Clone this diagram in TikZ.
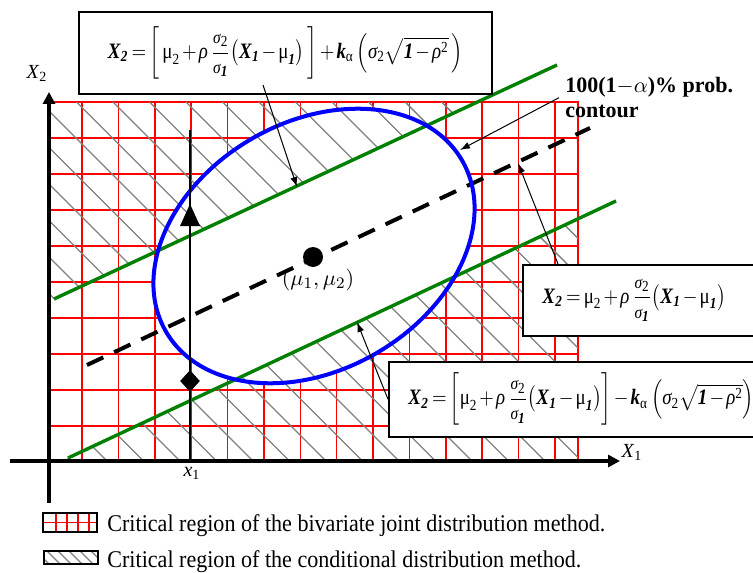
\documentclass[tikz,border=0pt]{standalone}
\usepackage{amsmath}
\usepackage{graphicx}
\usepackage{fontspec}
\setmainfont{Liberation Serif}
\usetikzlibrary{arrows.meta,positioning,shapes.geometric}
\definecolor{gridred}{RGB}{255,0,0}
\definecolor{bandgreen}{RGB}{0,128,0}
\definecolor{contourblue}{RGB}{0,0,255}
\definecolor{hatchgray}{RGB}{128,128,128}

\newcommand{\bvX}{\textbf{\textit{X}}}
\newcommand{\bvk}{\textbf{\textit{k}}}
\newcommand{\bvone}{\textbf{\textit{1}}}
\newcommand{\bvtwo}{\textbf{\textit{2}}}
\newcommand{\tmu}{\text{μ}}
\newcommand{\trho}{\text{\itshape ρ}}
\newcommand{\tsig}{\text{\itshape σ}}
\newcommand{\talpha}{\text{α}}
\newcommand{\sigfrac}{\dfrac{\text{\small\itshape σ}_{\text{2}}}{\text{\small\itshape σ}_{\bvone}}}
\newcommand{\squeeze}[2]{\scalebox{#1}[1]{\medmuskip=2mu\thickmuskip=3mu #2}}

\begin{document}
\begin{tikzpicture}[x=0.5pt, y=-0.5pt,
    gridline/.style={draw=gridred, line width=0.75pt},
    hatchline/.style={draw=hatchgray, line width=0.7pt},
    bandline/.style={draw=bandgreen, line width=1.7pt},
    regline/.style={draw=black, line width=2pt, dash pattern=on 9pt off 6pt},
    contour/.style={draw=contourblue, line width=2pt},
    axis/.style={line width=2pt, -{Triangle[length=6pt,width=6pt]}},
    ptr/.style={line width=0.5pt, -{Latex[length=5pt,width=3.5pt]}},
    eqbox/.style={draw, line width=0.75pt, fill=white, inner sep=0pt},
    eqtxt/.style={inner sep=0pt, anchor=west, font=\fontsize{11}{13}\selectfont},
    keybox/.style={draw, line width=0.6pt, inner sep=0pt, minimum width=27pt},
    legtxt/.style={font=\fontsize{12}{14}\selectfont, inner sep=0pt, anchor=base west}
]
\useasboundingbox (0,0) rectangle (753,572);

% Joint critical region (grid)
\draw[gridline] (50,102) rectangle (578,461);
\foreach \k in {0,...,9}
    \draw[gridline] (50,102+36*\k) -- (578,102+36*\k);
\foreach \k in {0,...,13}
    \draw[gridline] ({82+36.38*\k},102) -- ({82+36.38*\k},461);
\fill[white, rotate around={30:(314,246)}] (314,246) ellipse (171 and 124);

% Conditional critical region (hatch)
\begin{scope}
    \clip (50,102) -- (477.5,102) -- (50,300.9) -- cycle
          (61.6,461) -- (578,218.8) -- (578,461) -- cycle;
    \foreach \k in {-18,...,5}
        \draw[hatchline] ({332+36.5*\k-400},-298) -- ({332+36.5*\k+400},502);
\end{scope}

% Limits and regression line
\coordinate (upA) at (54,299);
\coordinate (upB) at (557,65);
\coordinate (lowA) at (68,458);
\coordinate (lowB) at (616,201);
\coordinate (regA) at (87,365);
\coordinate (regB) at (590,128);
\draw[bandline] (upA) -- (upB);
\draw[bandline] (lowA) -- (lowB);
\draw[regline] (regA) -- (regB);

% Contour
\draw[contour, rotate around={30:(314,246)}] (314,246) ellipse (171 and 124);

% Observation line at x1
\coordinate (obsLow) at (190,461);
\coordinate (obsHigh) at (190,130);
\draw[line width=0.75pt] (obsLow) -- (obsHigh);
\fill (190,204) -- (180,226) -- (200,226) -- cycle;
\node[diamond, fill, inner sep=0pt, minimum width=10pt, minimum height=11pt] (lowMark) at (190,381) {};

% Axes
\coordinate (xStart) at (10,461);
\coordinate (xEnd) at (620,461);
\coordinate (yStart) at (49,503);
\coordinate (yEnd) at (49,92);
\draw[axis] (xStart) -- (xEnd);
\draw[axis] (yStart) -- (yEnd);
\node[font=\fontsize{10}{12}\selectfont] (xTwoLab) at (37,73) {\textit{X}\textsubscript{2}};
\node[font=\fontsize{10}{12}\selectfont] (xOneLab) at (632,452) {\textit{X}\textsubscript{1}};
\node[font=\fontsize{10}{12}\selectfont] (obsLab) at (192,473) {\textit{x}\textsubscript{1}};

% Mean
\node[circle, fill, minimum size=10pt, inner sep=0pt] (meanDot) at (313,257) {};
\node[font=\fontsize{11}{13}\selectfont] (meanLab) at (318,280) {$(\mu_1,\mu_2)$};

% Boxes
\node[eqbox, minimum width=206.5pt, minimum height=41pt] (upperEq) at (285.5,53) {};
\node[eqtxt, anchor=center] (upperTxt) at (upperEq.center)
    {\squeeze{0.86}{$\bvX_{\bvtwo} = \left[\,\tmu_{\text{2}} + \trho\,\sigfrac\bigl(\bvX_{\bvone} - \tmu_{\bvone}\bigr)\,\right] + \bvk_{\talpha}\left(\tsig_{\text{2}}\sqrt{\bvone - \trho^{\text{2}}}\,\right)$}};
\node[eqbox, anchor=north west, minimum width=140pt, minimum height=35.5pt] (meanEq) at (522,264) {};
\node[eqtxt] (meanTxt) at ([xshift=10pt]meanEq.west)
    {\squeeze{0.86}{$\bvX_{\bvtwo} = \tmu_{\text{2}} + \trho\,\sigfrac\bigl(\bvX_{\bvone} - \tmu_{\bvone}\bigr)$}};
\node[eqbox, anchor=north west, minimum width=200pt, minimum height=37.5pt] (lowerEq) at (388,361) {};
\node[eqtxt] (lowerTxt) at ([xshift=10pt]lowerEq.west)
    {\squeeze{0.86}{$\bvX_{\bvtwo} = \left[\tmu_{\text{2}} + \trho\,\sigfrac\bigl(\bvX_{\bvone} - \tmu_{\bvone}\bigr)\right] - \bvk_{\talpha}\left(\tsig_{\text{2}}\sqrt{\bvone - \trho^{\text{2}}}\right)$}};
\node[anchor=north west, align=left, inner sep=0pt, font=\fontsize{11}{12.5}\selectfont\bfseries] (probLab) at (565,77)
    {100(1$-\alpha$)\% prob.\\contour};

% Pointers
\coordinate (upStart) at (263,85);
\coordinate (upTip) at (297,187);
\coordinate (contourTip) at (460,150);
\coordinate (regTip) at (518,163);
\coordinate (lowTip) at (357,322);
\draw[ptr] (upStart) -- (upTip);
\draw[ptr] ([xshift=-3pt]probLab.west) -- (contourTip);
\draw[ptr] ([xshift=18pt]meanEq.north west) -- (regTip);
\draw[ptr] (lowerEq.west) -- (lowTip);

% Legend
\foreach \x in {56,67,78,89}
    \draw[gridline] (\x,513) -- (\x,532);
\draw[gridline] (43,522.5) -- (97,522.5);
\node[keybox, minimum height=9.5pt] (jointKey) at (70,522.5) {};
\begin{scope}
    \clip (44,551) rectangle (98,564);
    \foreach \c in {36,47,...,102}
        \draw[hatchline] (\c,551) -- ({\c+13},564);
\end{scope}
\node[keybox, minimum height=6.5pt] (condKey) at (71,557.5) {};
\node[legtxt] (jointTxt) at (107,531) {\squeeze{0.92}{Critical region of the bivariate joint distribution method.}};
\node[legtxt] (condTxt) at (107,567) {\squeeze{0.92}{Critical region of the conditional distribution method.}};

\end{tikzpicture}
\end{document}
